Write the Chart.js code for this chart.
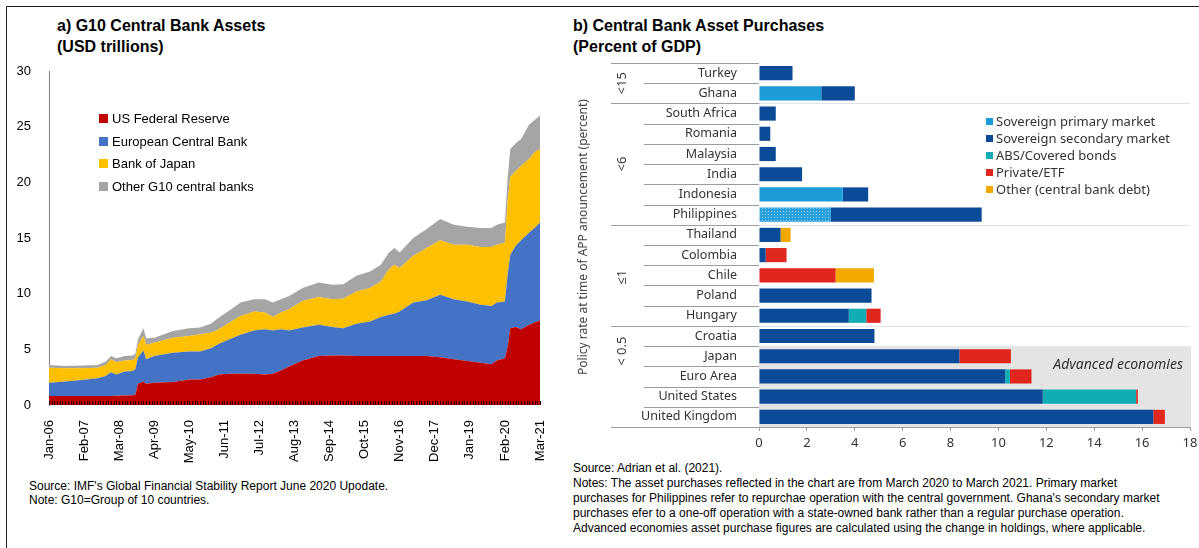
<!DOCTYPE html>
<html>
<head>
<meta charset="utf-8">
<script src="https://cdn.jsdelivr.net/npm/chart.js@4.4.1/dist/chart.umd.min.js"></script>
<style>
  body { margin: 0; background: #fff; }
  #wrap { position: relative; width: 1199px; height: 548px; overflow: hidden; font-family: "Liberation Sans", Arial, sans-serif; }
  .abs { position: absolute; white-space: nowrap; }
  .title { font-weight: bold; font-size: 16px; line-height: 21px; color: #000; }
  .note { font-size: 12px; color: #000; }
  .leg { position: absolute; white-space: nowrap; height: 16px; line-height: 16px; }
  .leg i { display: inline-block; vertical-align: middle; margin-top: -2px; }
</style>
</head>
<body>
<div id="wrap">
  <div class="abs" style="left:7px;top:6px;width:1192px;height:1px;background:#222"></div>
  <div class="abs" style="left:6px;top:6px;width:1px;height:542px;background:#222"></div>

  <div class="abs title" style="left:57px;top:15px">a) G10 Central Bank Assets<br>(USD trillions)</div>
  <div class="abs title" style="left:573px;top:15px">b) Central Bank Asset Purchases<br>(Percent of GDP)</div>

  <canvas id="left" class="abs" width="570" height="410" style="left:0;top:60px"></canvas>
  <canvas id="right" class="abs" width="629" height="405" style="left:570px;top:55px"></canvas>

  <div id="legLeft"></div>
  <div id="legRight"></div>

  <div class="abs note" style="left:29px;top:479px;line-height:14px">Source: IMF's Global Financial Stability Report June 2020 Upodate.<br>Note: G10=Group of 10 countries.</div>
  <div class="abs note" style="left:573px;top:461px;line-height:15px">Source: Adrian et al. (2021).<br>Notes: The asset purchases reflected in the chart are from March 2020 to March 2021. Primary market<br>purchases for Philippines refer to repurchae operation with the central government. Ghana's secondary market<br>purchases efer to a one-off operation with a state-owned bank rather than a regular purchase operation.<br>Advanced economies asset purchase figures are calculated using the change in holdings, where applicable.</div>
</div>

<script>
// ---- panel a: G10 central bank assets, USD trillions (month index 0 = Jan-06) ----
const months = [0, 6, 12, 18, 21, 23, 25, 28, 31, 32, 33, 35, 36, 39, 46, 52, 56, 60, 63, 67, 71, 76, 80, 83, 86, 89,
                94, 100, 105, 109, 114, 119, 123, 126, 128, 130, 135, 140, 145, 150, 155, 160, 164, 166, 169, 170, 171, 173, 175, 178, 180, 182];
const fed   = [0.8, 0.8, 0.8, 0.8, 0.8, 0.8, 0.82, 0.85, 0.87, 0.95, 1.9, 2.1, 1.9, 2.0, 2.07, 2.3, 2.3, 2.5, 2.75, 2.8, 2.8, 2.8, 2.75, 2.8, 3.1, 3.45,
               4.0, 4.4, 4.45, 4.45, 4.4, 4.4, 4.4, 4.4, 4.4, 4.4, 4.4, 4.4, 4.3, 4.1, 3.95, 3.8, 3.65, 4.0, 4.2, 5.2, 6.9, 7.0, 6.8, 7.2, 7.4, 7.6];
const ecb   = [1.2, 1.3, 1.45, 1.6, 1.8, 2.15, 1.93, 2.15, 2.18, 2.25, 2.4, 2.8, 2.2, 2.4, 2.63, 2.5, 2.5, 2.6, 2.75, 3.1, 3.5, 3.9, 4.05, 3.9, 3.7, 3.25,
               2.95, 2.8, 2.55, 2.45, 2.9, 3.1, 3.5, 3.7, 3.8, 4.0, 4.8, 5.0, 5.6, 5.4, 5.35, 5.2, 5.25, 5.2, 5.1, 6.5, 6.6, 7.3, 8.0, 8.3, 8.5, 8.8];
const boj   = [1.35, 1.2, 1.05, 0.95, 1.0, 1.15, 1.1, 1.0, 1.0, 1.0, 1.1, 1.3, 1.3, 1.2, 1.35, 1.4, 1.55, 1.4, 1.3, 1.5, 1.7, 1.7, 1.5, 1.2, 1.5, 1.9,
               2.4, 2.5, 2.5, 2.65, 2.9, 3.0, 3.2, 4.1, 4.4, 3.9, 4.2, 4.7, 4.9, 4.9, 5.1, 5.2, 5.3, 5.2, 5.3, 6.6, 7.0, 6.7, 6.7, 6.6, 6.8, 6.6];
const other = [0.25, 0.2, 0.25, 0.25, 0.3, 0.3, 0.35, 0.4, 0.4, 0.4, 0.5, 0.7, 0.6, 0.45, 0.6, 0.7, 0.6, 0.8, 1.05, 1.1, 1.2, 1.1, 1.2, 1.3, 1.2, 1.2,
               1.15, 1.3, 1.3, 1.3, 1.4, 1.5, 1.5, 1.5, 1.5, 1.4, 1.6, 1.7, 1.9, 1.8, 1.6, 1.7, 1.7, 1.8, 1.8, 2.1, 2.5, 2.5, 2.4, 3.1, 2.9, 3.0];
const seriesA = ['US Federal Reserve', 'European Central Bank', 'Bank of Japan', 'Other G10 central banks'];
const colorsA = ['#C00000', '#4472C4', '#FFC000', '#A5A5A5'];
const monthNames = ['Jan', 'Feb', 'Mar', 'Apr', 'May', 'Jun', 'Jul', 'Aug', 'Sep', 'Oct', 'Nov', 'Dec'];

// ---- panel b: asset purchases, percent of GDP ----
const countries = ['Turkey', 'Ghana', 'South Africa', 'Romania', 'Malaysia', 'India', 'Indonesia', 'Philippines', 'Thailand',
                   'Colombia', 'Chile', 'Poland', 'Hungary', 'Croatia', 'Japan', 'Euro Area', 'United States', 'United Kingdom'];
const primary   = [0, 2.6, 0, 0, 0, 0, 3.5, 3.0, 0, 0, 0, 0, 0, 0, 0, 0, 0, 0];
const secondary = [1.4, 1.4, 0.7, 0.47, 0.7, 1.8, 1.06, 6.3, 0.9, 0.28, 0, 4.7, 3.75, 4.82, 8.37, 10.28, 11.85, 16.47];
const absBonds  = [0, 0, 0, 0, 0, 0, 0, 0, 0, 0, 0, 0, 0.73, 0, 0, 0.2, 3.9, 0];
const privEtf   = [0, 0, 0, 0, 0, 0, 0, 0, 0, 0.87, 3.2, 0, 0.6, 0, 2.15, 0.9, 0.07, 0.48];
const otherDebt = [0, 0, 0, 0, 0, 0, 0, 0, 0.42, 0, 1.6, 0, 0, 0, 0, 0, 0, 0];
const seriesB = ['Sovereign primary market', 'Sovereign secondary market', 'ABS/Covered bonds', 'Private/ETF', 'Other (central bank debt)'];
const colorsB = ['#1b9bd8', '#0b4a97', '#12adb4', '#e0271e', '#f2a900'];
const rateGroups = [
  { label: '<15', from: 0, to: 1, y: null },
  { label: '<6', from: 2, to: 7, y: null },
  { label: '\u22641', from: 8, to: 12, y: 0.52 },
  { label: '< 0.5', from: 13, to: 17, y: 0.25 }
];
const advancedFrom = 14;

const fontA = '"Liberation Sans", Arial, sans-serif';
const fontB = '"Noto Sans", "Open Sans", sans-serif';

function monthLabel(m) {
  const yy = 6 + Math.floor(m / 12);
  return monthNames[m % 12] + '-' + (yy < 10 ? '0' + yy : yy);
}

// keep the tick labels from pushing the plot area around
function noOverflow(s) {
  s.paddingTop = 0; s.paddingBottom = 0; s.paddingLeft = 0; s.paddingRight = 0;
}

// ---------- chart a ----------
const monthTicks = {
  id: 'monthTicks',
  afterDatasetsDraw(chart) {
    const { ctx, chartArea, scales: { x } } = chart;
    ctx.save();
    ctx.strokeStyle = '#2a0000';
    ctx.lineWidth = 1;
    for (let m = 0; m <= 182; m++) {
      const px = Math.round(x.getPixelForValue(m)) + 0.5;
      ctx.beginPath();
      ctx.moveTo(px, chartArea.bottom);
      ctx.lineTo(px, chartArea.bottom - 4);
      ctx.stroke();
    }
    ctx.restore();
  }
};

const valuesA = [fed, ecb, boj, other];
new Chart(document.getElementById('left'), {
  type: 'line',
  data: {
    datasets: seriesA.map((name, i) => ({
      label: name,
      data: months.map((m, k) => ({ x: m, y: valuesA[i][k] })),
      backgroundColor: colorsA[i],
      borderWidth: 0,
      pointRadius: 0,
      fill: i === 0 ? 'origin' : '-1',
      tension: 0
    }))
  },
  options: {
    responsive: false,
    animation: false,
    layout: { padding: { left: 0, right: 30, top: 11, bottom: 0 } },
    plugins: { legend: { display: false }, tooltip: { enabled: false } },
    scales: {
      x: {
        type: 'linear',
        min: 0,
        max: 182,
        grid: { display: false },
        border: { display: false },
        ticks: {
          stepSize: 13,
          autoSkip: false,
          minRotation: 90,
          maxRotation: 90,
          padding: 7,
          color: '#000',
          font: { family: fontA, size: 13 },
          callback: v => monthLabel(v)
        },
        afterFit: s => { s.height = 65; noOverflow(s); }
      },
      y: {
        stacked: true,
        min: 0,
        max: 30,
        grid: { display: false },
        border: { display: true, color: '#808080', width: 1 },
        ticks: { stepSize: 5, padding: 10, color: '#000', font: { family: fontA, size: 13 } },
        afterFit: s => { s.width = 49; noOverflow(s); }
      }
    }
  },
  plugins: [monthTicks]
});

// ---------- chart b ----------
const pc = document.createElement('canvas');
pc.width = 3; pc.height = 3;
const pctx = pc.getContext('2d');
pctx.fillStyle = '#2aa0dc';
pctx.fillRect(0, 0, 3, 3);
pctx.fillStyle = '#8ed0f2';
pctx.fillRect(0, 0, 1, 1);
const dotted = pctx.createPattern(pc, 'repeat');

const rowEdge = (y, i) => {
  const pitch = y.getPixelForValue(1) - y.getPixelForValue(0);
  return y.getPixelForValue(0) - pitch / 2 + i * pitch;
};

const groupsPlugin = {
  id: 'groups',
  beforeDatasetsDraw(chart) {
    const { ctx, chartArea, scales: { y } } = chart;
    ctx.save();
    ctx.fillStyle = '#e4e4e4';
    const top = rowEdge(y, advancedFrom);
    ctx.fillRect(chartArea.left, top, chartArea.right - chartArea.left + 1, chartArea.bottom - top);
    ctx.strokeStyle = '#e2e2e2';
    ctx.lineWidth = 1;
    rateGroups.slice(1).forEach(g => {
      const py = Math.round(rowEdge(y, g.from)) + 0.5;
      ctx.beginPath(); ctx.moveTo(chartArea.left, py); ctx.lineTo(chartArea.right, py); ctx.stroke();
    });
    ctx.restore();
  },
  afterDraw(chart) {
    const { ctx, chartArea, scales: { y } } = chart;
    const n = countries.length;
    const starts = rateGroups.map(g => g.from).concat([n]);
    ctx.save();
    ctx.strokeStyle = '#9c9c9c';
    ctx.lineWidth = 1;
    for (let i = 0; i <= n; i++) {
      const py = Math.round(rowEdge(y, i)) + 0.5;
      const x0 = starts.includes(i) ? 41 : 74;
      const x1 = i === n ? chartArea.right : chartArea.left;
      ctx.beginPath(); ctx.moveTo(x0, py); ctx.lineTo(x1, py); ctx.stroke();
    }
    ctx.fillStyle = '#333';
    ctx.textAlign = 'center';
    ctx.textBaseline = 'middle';
    ctx.font = '13px ' + fontB;
    rateGroups.forEach(g => {
      const a = rowEdge(y, g.from), b = rowEdge(y, g.to + 1);
      const cy = g.y === null ? (a + b) / 2 : a + (b - a) * g.y;
      ctx.save();
      ctx.translate(52, cy);
      ctx.rotate(-Math.PI / 2);
      ctx.fillText(g.label, 0, 0);
      ctx.restore();
    });
    ctx.font = '12px ' + fontB;
    ctx.fillStyle = '#444';
    ctx.save();
    ctx.translate(14, (chartArea.top + chartArea.bottom) / 2 - 8);
    ctx.rotate(-Math.PI / 2);
    ctx.fillText('Policy rate at time of APP anouncement (percent)', 0, 0);
    ctx.restore();
    ctx.font = 'italic 14px ' + fontB;
    ctx.textAlign = 'right';
    ctx.fillStyle = '#333';
    ctx.fillText('Advanced economies', chartArea.right - 7, rowEdge(y, advancedFrom) + 19);
    ctx.restore();
  }
};

const valuesB = [primary, secondary, absBonds, privEtf, otherDebt];
new Chart(document.getElementById('right'), {
  type: 'bar',
  data: {
    labels: countries,
    datasets: seriesB.map((name, i) => ({
      label: name,
      data: valuesB[i],
      backgroundColor: i === 0 ? countries.map(c => c === 'Philippines' ? dotted : colorsB[0]) : colorsB[i],
      borderWidth: 0,
      barPercentage: 0.7,
      categoryPercentage: 1
    }))
  },
  options: {
    indexAxis: 'y',
    responsive: false,
    animation: false,
    layout: { padding: { left: 0, right: 9, top: 8, bottom: 0 } },
    plugins: { legend: { display: false }, tooltip: { enabled: false } },
    scales: {
      x: {
        stacked: true,
        min: 0,
        max: 18,
        grid: { drawOnChartArea: false, tickLength: 4, color: '#9c9c9c' },
        border: { display: true, color: '#9c9c9c' },
        ticks: { stepSize: 2, padding: 4, color: '#333', font: { family: fontB, size: 13 } },
        afterFit: s => { s.height = 33; noOverflow(s); }
      },
      y: {
        stacked: true,
        grid: { display: false },
        border: { display: false },
        ticks: { padding: 14, color: '#333', autoSkip: false, font: { family: fontB, size: 12.5 } },
        afterFit: s => { s.width = 189; noOverflow(s); }
      }
    }
  },
  plugins: [groupsPlugin]
});

// ---------- legends ----------
const legLeft = document.getElementById('legLeft');
seriesA.forEach((name, i) => {
  const d = document.createElement('div');
  d.className = 'leg';
  d.style.left = '99px';
  d.style.top = (111 + i * 22.6) + 'px';
  d.style.font = '13px ' + fontA;
  d.innerHTML = '<i style="width:9px;height:9px;background:' + colorsA[i] + ';margin-right:4px"></i>' + name;
  legLeft.appendChild(d);
});
const legRight = document.getElementById('legRight');
seriesB.forEach((name, i) => {
  const d = document.createElement('div');
  d.className = 'leg';
  d.style.left = '986px';
  d.style.top = (112 + i * 17) + 'px';
  d.style.font = '13px ' + fontB;
  d.style.color = '#333';
  d.innerHTML = '<i style="width:7px;height:7px;background:' + colorsB[i] + ';margin-right:3px"></i>' + name;
  legRight.appendChild(d);
});
</script>
</body>
</html>
